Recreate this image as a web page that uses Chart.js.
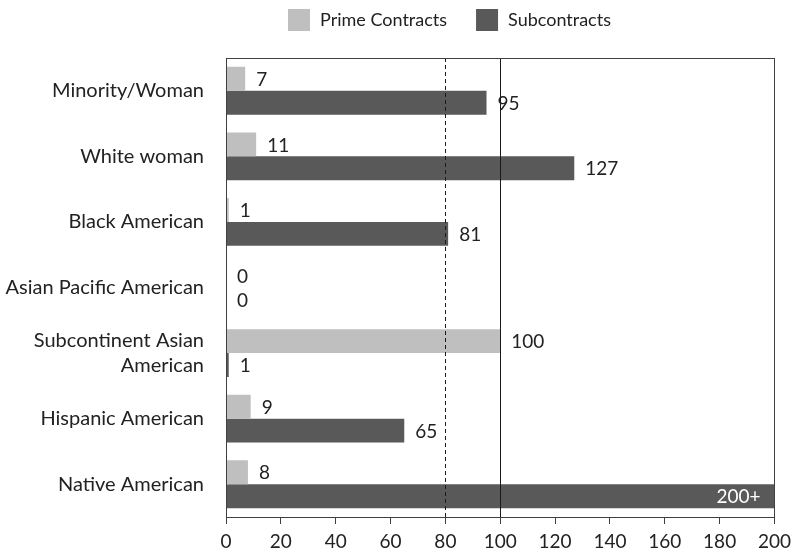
<!DOCTYPE html>
<html>
<head>
<meta charset="utf-8">
<title>Prime Contracts and Subcontracts</title>
<script src="https://cdn.jsdelivr.net/npm/chart.js@4/dist/chart.umd.min.js"></script>
<style>
  html, body { margin: 0; padding: 0; background: #fff; }
  #wrap { width: 797px; height: 554px; position: relative; }
</style>
</head>
<body>
<div id="wrap"><canvas id="contractsChart"></canvas></div>
<script>
// Groups on the vertical axis (multi-line labels as arrays)
const groups = [
  "Minority/Woman",
  "White woman",
  "Black American",
  "Asian Pacific American",
  ["Subcontinent Asian", "American"],
  "Hispanic American",
  "Native American"
]
const primeValues = [7, 11, 1, 0, 100, 9, 8]
// Native American subcontracts run past the axis end (200+)
const subValues = [95, 127, 81, 0, 1, 65, 200]
const axisTicks = [0, 20, 40, 60, 80, 100, 120, 140, 160, 180, 200]
const dashedRef = 80
const solidRef = 100

const FONT = "Lato, 'Open Sans', sans-serif"
const TEXT = "#222222"
const PRIME_COLOR = "#bfbfbf"
const SUB_COLOR = "#595959"

function labelFor(v) {
  return v >= 200 ? "200+" : String(v)
}

// Frame, reference lines, value labels and legend
const overlay = {
  id: "overlay",
  afterDatasetsDraw(chart) {
    const { ctx, chartArea: a, scales } = chart
    ctx.save()

    // value labels
    ctx.font = "19px " + FONT
    ctx.textBaseline = "middle"
    chart.data.datasets.forEach((ds, i) => {
      chart.getDatasetMeta(i).data.forEach((bar, j) => {
        const v = ds.data[j]
        if (v >= 200) {
          ctx.fillStyle = "#ffffff"
          ctx.textAlign = "right"
          ctx.fillText(labelFor(v), bar.x - 14, bar.y + 1)
        } else {
          ctx.fillStyle = TEXT
          ctx.textAlign = "left"
          ctx.fillText(labelFor(v), bar.x + 11, bar.y + 1)
        }
      })
    })

    // reference lines
    ctx.strokeStyle = "#1a1a1a"
    ctx.lineWidth = 1
    const xd = Math.round(scales.x.getPixelForValue(dashedRef)) + 0.5
    ctx.setLineDash([4, 3])
    ctx.beginPath()
    ctx.moveTo(xd, a.top)
    ctx.lineTo(xd, a.bottom)
    ctx.stroke()
    const xs = Math.round(scales.x.getPixelForValue(solidRef)) + 0.5
    ctx.setLineDash([])
    ctx.beginPath()
    ctx.moveTo(xs, a.top)
    ctx.lineTo(xs, a.bottom)
    ctx.stroke()

    // plot frame
    ctx.strokeStyle = "#404040"
    ctx.strokeRect(Math.round(a.left) + 0.5, Math.round(a.top) + 0.5,
      Math.round(a.right - a.left), Math.round(a.bottom - a.top))

    // legend
    ctx.font = "18px " + FONT
    ctx.textAlign = "left"
    ctx.textBaseline = "middle"
    let x = 288
    const y = 9
    chart.data.datasets.forEach((ds) => {
      ctx.fillStyle = ds.backgroundColor
      ctx.fillRect(x, y, 22, 22)
      ctx.fillStyle = TEXT
      ctx.fillText(ds.label, x + 32, y + 11)
      x += 32 + ctx.measureText(ds.label).width + 29
    })

    ctx.restore()
  }
}

new Chart(document.getElementById("contractsChart"), {
  type: "bar",
  data: {
    labels: groups,
    datasets: [
      { label: "Prime Contracts", data: primeValues, backgroundColor: PRIME_COLOR },
      { label: "Subcontracts", data: subValues, backgroundColor: SUB_COLOR }
    ]
  },
  options: {
    indexAxis: "y",
    responsive: true,
    maintainAspectRatio: false,
    animation: false,
    layout: { padding: { top: 58, right: 22, left: 0, bottom: 0 } },
    datasets: {
      bar: { barPercentage: 1.0, categoryPercentage: 0.73 }
    },
    scales: {
      x: {
        min: 0,
        max: 200,
        afterBuildTicks: (s) => { s.ticks = axisTicks.map((v) => ({ value: v })) },
        afterFit: (s) => { s.height = 37 },
        grid: { drawOnChartArea: false, drawTicks: true, tickLength: 7, color: "#404040" },
        border: { display: true, color: "#404040" },
        ticks: { color: TEXT, font: { family: FONT, size: 19 }, padding: 6, maxRotation: 0 }
      },
      y: {
        afterFit: (s) => { s.width = 226 },
        grid: { display: false },
        border: { display: true, color: "#404040" },
        ticks: { color: TEXT, font: { family: FONT, size: 20, lineHeight: 1.25 }, padding: 14 }
      }
    },
    plugins: {
      legend: { display: false },
      tooltip: { enabled: false }
    }
  },
  plugins: [overlay]
})
</script>
</body>
</html>
